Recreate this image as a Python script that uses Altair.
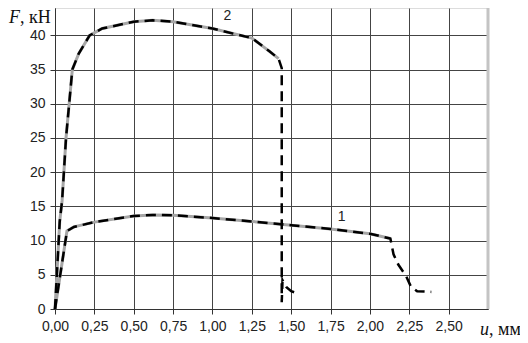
import altair as alt
import pandas as pd

# Curve 1 (calculated, gray solid)
c1_calc_u = [0, 0.076, 0.12, 0.25, 0.5, 0.62, 0.75, 1.0, 1.25, 1.5, 1.75, 2.0, 2.13]
c1_calc_F = [0, 11.4, 12.0, 12.7, 13.6, 13.75, 13.7, 13.3, 12.8, 12.25, 11.7, 11.0, 10.3]
# Curve 1 (experiment, black dashed)
c1_exp_u = c1_calc_u + [2.15, 2.18, 2.23, 2.26, 2.30, 2.39]
c1_exp_F = c1_calc_F + [8.0, 6.5, 4.8, 3.3, 2.6, 2.5]

# Curve 2 (calculated, gray solid)
c2_calc_u = [0, 0.03, 0.045, 0.07, 0.09, 0.11, 0.15, 0.22, 0.3, 0.5, 0.62, 0.75, 1.0, 1.25, 1.36, 1.42]
c2_calc_F = [0, 12.8, 15.8, 25, 30, 35, 37.3, 40, 41, 42.0, 42.2, 42.0, 41.0, 39.6, 37.7, 36.6]
# Curve 2 (experiment, black dashed)
c2_exp_u = c2_calc_u + [1.44, 1.44, 1.445, 1.47, 1.50, 1.55]
c2_exp_F = c2_calc_F + [35.2, 1.0, 4.2, 3.2, 2.6, 2.2]

label_text = ["1", "2"]
label_u = [1.82, 1.095]
label_F = [13.4, 42.8]

x_ticks = [0, 0.25, 0.5, 0.75, 1.0, 1.25, 1.5, 1.75, 2.0, 2.25, 2.5]
y_ticks = [0, 5, 10, 15, 20, 25, 30, 35, 40]

rows = []
for name, kind, us, fs in [
    ("1", "calc", c1_calc_u, c1_calc_F),
    ("1", "exp", c1_exp_u, c1_exp_F),
    ("2", "calc", c2_calc_u, c2_calc_F),
    ("2", "exp", c2_exp_u, c2_exp_F),
]:
    for i, (u, f) in enumerate(zip(us, fs)):
        rows.append({"u": u, "F": f, "curve": name, "kind": kind, "order": i})
df = pd.DataFrame(rows)

xs = alt.Scale(domain=[0, 2.75], nice=False, zero=False)
ys = alt.Scale(domain=[0, 44], nice=False)

common = dict(
    title=None, grid=True, gridColor="#444", gridWidth=1,
    domainColor="#333", tickColor="#333", tickSize=5, labelPadding=5,
    labelFont="Liberation Sans", labelFontSize=14, labelColor="#222",
    labelOverlap=False, labelFlush=False,
)
xaxis = alt.Axis(values=x_ticks,
                 labelExpr="replace(format(datum.value, '.2f'), '.', ',')", **common)
yaxis = alt.Axis(values=y_ticks, **common)

X = alt.X("u:Q", scale=xs, axis=xaxis)
Y = alt.Y("F:Q", scale=ys, axis=yaxis)

base = alt.Chart(df)

gray = base.transform_filter(alt.datum.kind == "calc").mark_line(
    color="#a6a6a6", strokeWidth=3
).encode(x=X, y=Y, detail="curve:N", order="order:Q")

black = base.transform_filter(alt.datum.kind == "exp").mark_line(
    color="black", strokeWidth=2.5, strokeDash=[10, 6]
).encode(x=X, y=Y, detail="curve:N", order="order:Q")

border = alt.Chart(pd.DataFrame({"u": [2.75]})).mark_rule(
    color="#c4c4c4", strokeWidth=3
).encode(x=X)

labels = alt.Chart(pd.DataFrame({"t": label_text, "u": label_u, "F": label_F})).mark_text(
    font="Liberation Sans", fontSize=14, color="#222"
).encode(x=X, y=Y, text="t:N")

def title_part(text, x, y, italic):
    return alt.Chart(pd.DataFrame({"t": [text]})).mark_text(
        font="Liberation Serif", fontSize=18, color="#111", align="left",
        baseline="alphabetic", fontStyle="italic" if italic else "normal",
    ).encode(x=alt.value(x), y=alt.value(y), text="t:N")

titles = [
    title_part("F", -46, 15, True),
    title_part(", кН", -35, 15, False),
    title_part("u", 425, 327, True),
    title_part(", мм", 434, 327, False),
]

chart = alt.layer(gray, black, border, labels, *titles).properties(
    width=433, height=301,
    autosize=alt.AutoSizeParams(type="none"),
    padding={"left": 47, "top": 0, "right": 32, "bottom": 40},
).configure_view(stroke=None).configure(background="white")

chart.save("out.html", embed_options={"renderer": "svg", "actions": False})
